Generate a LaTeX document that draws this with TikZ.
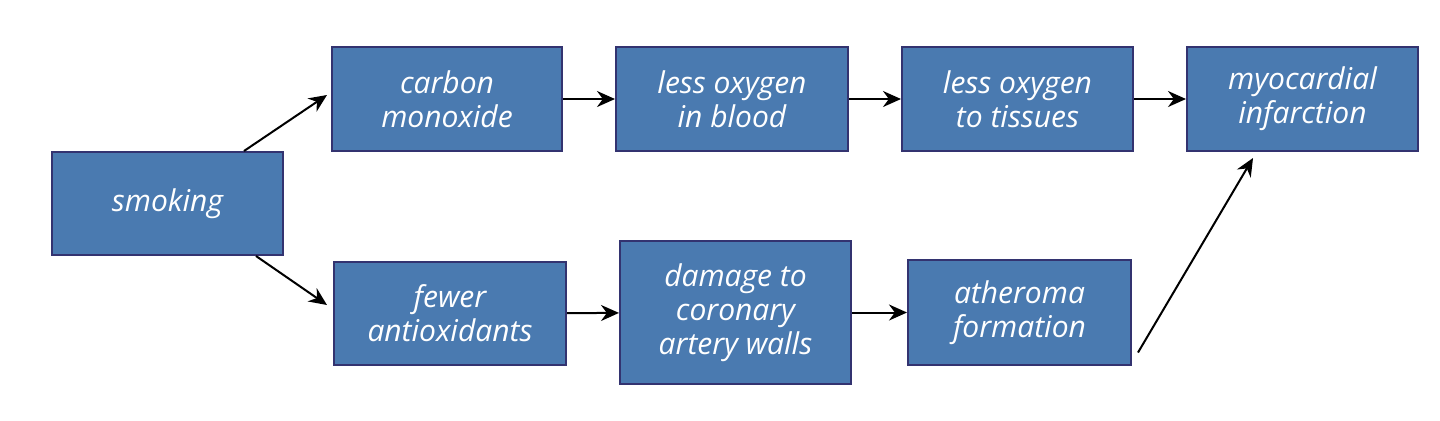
\documentclass[tikz,border=0pt]{standalone}
\usepackage{fontspec}
\setmainfont{Open Sans}
\usetikzlibrary{arrows.meta}
\begin{document}
\begin{tikzpicture}[x=0.5pt,y=-0.5pt,
  box/.style={draw=black!70!blue!80, line width=1pt, fill={rgb,255:red,74;green,122;blue,176}, text=white, font=\itshape\fontsize{15}{17}\selectfont, align=center, inner sep=0pt},
  arr/.style={-{Stealth[length=9pt,width=8pt]}, line width=1pt}]
\useasboundingbox (0,0) rectangle (1440,420);
\newcommand{\bx}[6]{\node[box, minimum width={(#4-#2)*0.5pt}, minimum height={(#5-#3)*0.5pt}] (#1) at ({(#2+#4)/2},{(#3+#5)/2}) {#6};}
\bx{s}{52}{152}{283}{255}{smoking}
\bx{co}{332}{47}{562}{151}{carbon\\monoxide}
\bx{lb}{616}{47}{848}{151}{less oxygen\\in blood}
\bx{lt}{902}{47}{1133}{151}{less oxygen\\to tissues}
\bx{mi}{1187}{47}{1418}{151}{myocardial\\infarction}
\bx{fa}{334}{262}{566}{365}{fewer\\antioxidants}
\bx{dm}{620}{241}{851}{384}{damage to\\coronary\\artery walls}
\bx{at}{908}{260}{1131}{365}{atheroma\\formation}
\coordinate (c1) at (327,95);
\coordinate (c2) at (327,305);
\coordinate (c3) at (1253,158);
\draw[arr] (s.north east) ++(-40,0) -- (c1);
\draw[arr] (s.south east) ++(-28,0) -- (c2);
\draw[arr] (co) -- (lb);
\draw[arr] (lb) -- (lt);
\draw[arr] (lt) -- (mi);
\draw[arr] (fa) -- (dm);
\draw[arr] (dm) -- (at);
\draw[arr] ([xshift=3pt,yshift=-20pt]at.east) -- (c3);
\end{tikzpicture}
\end{document}
